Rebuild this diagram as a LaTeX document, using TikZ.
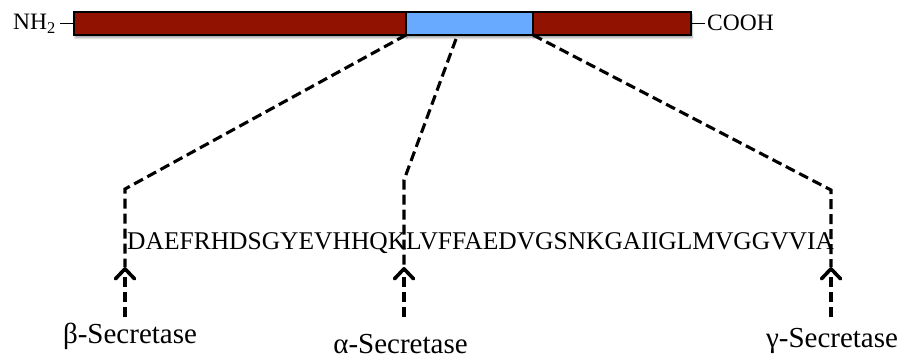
\documentclass[tikz,border=0pt]{standalone}
\usepackage{fontspec}
\setmainfont{Liberation Serif}
\usetikzlibrary{arrows.meta,shadows.blur}

\definecolor{domainred}{RGB}{145,18,0}
\definecolor{domainblue}{RGB}{104,170,255}

\tikzset{
  seg/.style={draw=black, line width=1.6pt, inner sep=0pt, outer sep=0pt,
              minimum height=23pt, anchor=north west,
              blur shadow={shadow xshift=1pt, shadow yshift=-3pt,
                           shadow blur steps=6, shadow opacity=35}},
  tick/.style={line width=1.6pt},
  cut/.style={dash pattern=on 10pt off 5pt, line width=3.1pt},
  cutarrow/.style={cut, -{Straight Barb[length=10pt,width=19pt,line width=3.6pt,round]}},
  endlabel/.style={font=\fontsize{23.5}{28}\selectfont, inner sep=0pt, anchor=base west},
  seqtext/.style={font=\fontsize{25.5}{30}\selectfont, inner sep=0pt, anchor=base west},
  enzyme/.style={font=\fontsize{29}{34}\selectfont, inner sep=0pt, anchor=base}
}

\begin{document}
\begin{tikzpicture}[x=1pt, y=-1pt]
  \useasboundingbox (0,0) rectangle (907,363);

  % protein bar: N-terminal part, A-beta region, C-terminal part
  \node[seg, fill=domainred,  minimum width=332pt] (left)  at (74,12)  {};
  \node[seg, fill=domainblue, minimum width=127pt] (abeta) at (406,12) {};
  \node[seg, fill=domainred,  minimum width=158pt] (right) at (533,12) {};

  % termini
  \node[endlabel] (nterm) at (13,29.5) {NH\textsubscript{2}};
  \node[endlabel] (cterm) at (707,30.5) {COOH};
  \coordinate (ntick) at (60,23.5);
  \coordinate (ctick) at (705,23.5);
  \draw[tick] (ntick) -- (ntick -| left.west);
  \draw[tick] (ctick) -- (ctick -| right.east);

  % peptide sequence
  \node[seqtext] (seq) at (127,250) {DAEFRHDSGYEVHHQKLVFFAEDVGSNKGAIIGLMVGGVVIA};

  % bends and cleavage points
  \coordinate (midtop) at (456,39);
  \coordinate (bbend) at (125,189);
  \coordinate (abend) at (404,180);
  \coordinate (gbend) at (831,190);
  \coordinate (bsite) at (125,267);
  \coordinate (asite) at (404,267);
  \coordinate (gsite) at (831,267);
  \coordinate (bfoot) at (125,317);
  \coordinate (afoot) at (404,317);
  \coordinate (gfoot) at (831,317);

  % dashed projections of the region onto the sequence
  \draw[cut] (abeta.south west) -- (bbend) -- (bsite);
  \draw[cut] (midtop) -- (abend) -- (asite);
  \draw[cut] (abeta.south east) -- (gbend) -- (gsite);

  % secretase arrows
  \draw[cutarrow] (bfoot) -- (bsite);
  \draw[cutarrow] (afoot) -- (asite);
  \draw[cutarrow] (gfoot) -- (gsite);

  % enzyme labels
  \node[enzyme] (beta)  at (130,343) {β-Secretase};
  \node[enzyme] (alpha) at (400.5,353) {α-Secretase};
  \node[enzyme] (gamma) at (832,347) {γ-Secretase};
\end{tikzpicture}
\end{document}
